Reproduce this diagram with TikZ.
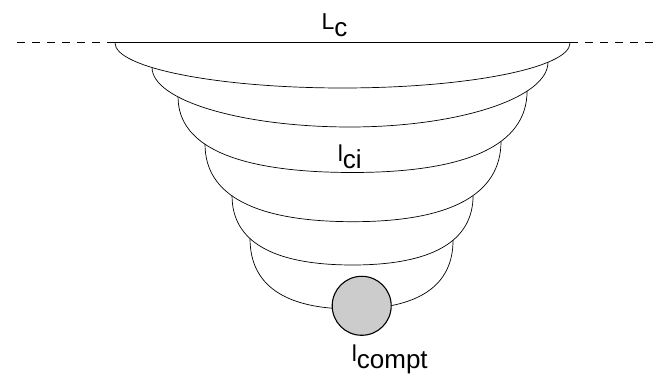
\documentclass[tikz,border=0pt]{standalone}
\usepackage{fontspec}
\setmainfont{Liberation Sans}
\newcommand{\sublabel}[2]{#1\raisebox{-7pt}{\fontsize{26}{26}\selectfont #2}}

\begin{document}
\begin{tikzpicture}[x=1pt, y=1pt,
  shell/.style={line width=0.7pt},
  rim/.style={line width=1pt},
  lbl/.style={anchor=base west, inner sep=0pt, font=\fontsize{23}{23}\selectfont}]
  \useasboundingbox (0,0) rectangle (668,379);

  % rim of the basin
  \coordinate (dl) at (17,336);
  \coordinate (dr) at (655,336);
  \coordinate (L1) at (115,336);
  \coordinate (R1) at (570,336);
  \draw[rim] (L1) -- (R1);
  \draw[rim, dash pattern=on 8pt off 7pt] (dl) -- (L1);
  \draw[rim, dash pattern=on 8pt off 7pt] (R1) -- (dr);

  % bottoms of the shells
  \coordinate (B1) at (342.5,291);
  \coordinate (B2) at (350,252);
  \coordinate (B3) at (352.5,206.5);
  \coordinate (B4) at (353,157.3);
  \coordinate (B5) at (352.5,114);
  \coordinate (B6) at (352,70);

  % nested shells, each one hangs from the one above
  \draw[shell] (L1) .. controls +(0,-24.75) and +(-125.1,0) .. (B1) coordinate[pos=.365] (L2)
    .. controls +(125.1,0) and +(0,-24.75) .. (R1) coordinate[pos=.722] (R2);
  \draw[shell] (L2) .. controls +(0,-32.7) and +(-108.9,0) .. (B2) coordinate[pos=.326] (L3)
    .. controls +(108.9,0) and +(0,-35.6) .. (R2) coordinate[pos=.709] (R3);
  \draw[shell] (L3) .. controls +(0,-49.9) and +(-115.2,0) .. (B3) coordinate[pos=.391] (L4)
    .. controls +(115.2,0) and +(0,-53.7) .. (R3) coordinate[pos=.616] (R4);
  \draw[shell] (L4) .. controls +(0,-51.2) and +(-97.7,0) .. (B4) coordinate[pos=.425] (L5)
    .. controls +(97.7,0) and +(0,-53) .. (R4) coordinate[pos=.568] (R5);
  \draw[shell] (L5) .. controls +(0,-45.6) and +(-79.5,0) .. (B5) coordinate[pos=.384] (L6)
    .. controls +(79.5,0) and +(0,-45.8) .. (R5) coordinate[pos=.595] (R6);
  \draw[shell] (L6) .. controls +(0,-46.5) and +(-67.3,0) .. (B6)
    .. controls +(66.7,0) and +(0,-45.4) .. (R6);

  % compartment at the bottom
  \node[circle, draw, line width=1.1pt, fill=black!20, minimum size=59pt, inner sep=0pt] (cell) at (361.7,73.2) {};

  % labels
  \node[lbl] (lc) at (321.5,349) {\sublabel{L}{c}};
  \node[lbl] (lci) at (337.6,217) {\sublabel{l}{ci}};
  \node[lbl] (lcompt) at (351.6,17) {\sublabel{l}{compt}};
\end{tikzpicture}
\end{document}
